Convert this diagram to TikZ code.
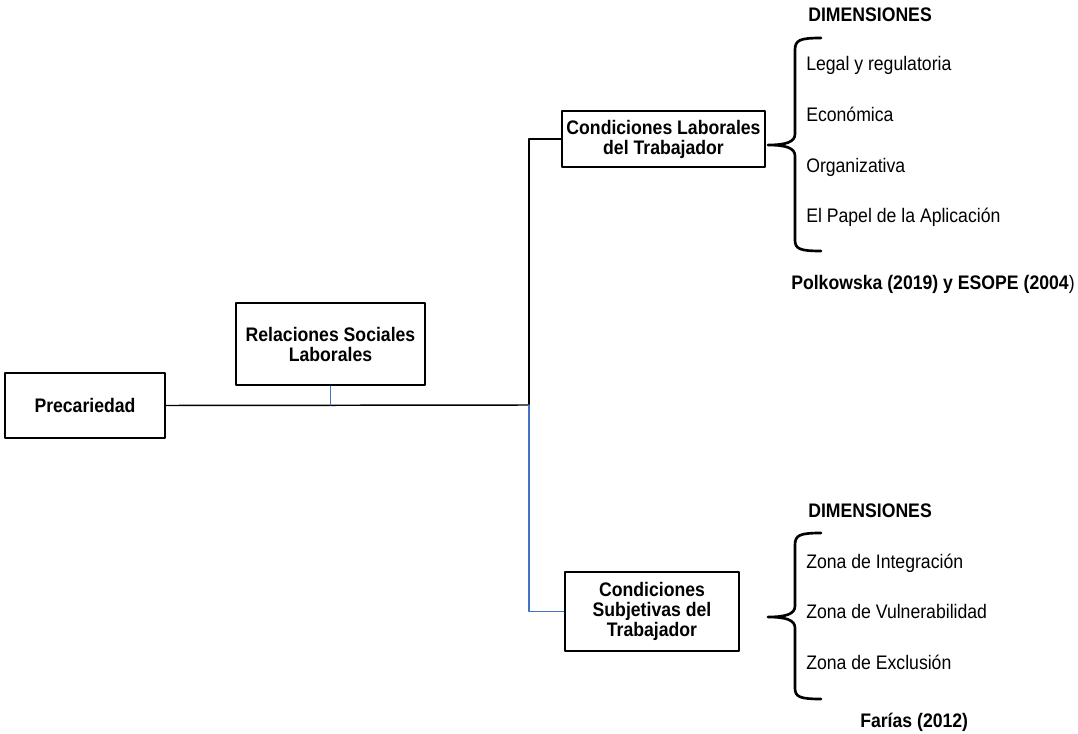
\documentclass[tikz,border=0pt]{standalone}
\usepackage{fontspec}
\setmainfont{Liberation Sans}[FakeStretch=0.9]
\usetikzlibrary{positioning}

\begin{document}
\begin{tikzpicture}[line cap=round,line join=round,x=0.75pt,y=-0.75pt,
  box/.style={draw,line width=2pt,align=center,inner sep=0pt,
    font=\fontsize{14.7pt}{15pt}\selectfont\bfseries},
  conn/.style={line width=1.1pt},
  blueconn/.style={line width=1.1pt,color=linkblue},
  item/.style={anchor=base west,inner sep=0pt,font=\fontsize{14.7pt}{15pt}\selectfont},
  head/.style={anchor=base west,inner sep=0pt,font=\fontsize{14.7pt}{15pt}\selectfont\bfseries},
  brace/.style={line width=2pt}]
\definecolor{linkblue}{RGB}{68,114,196}

\useasboundingbox (0,0) rectangle (1078,734);

% boxes
\node[box,minimum width=120pt,minimum height=48.75pt] (prec) at (85,405.5) {Precariedad};
\node[box,minimum width=141.75pt,minimum height=61.5pt] (rel) at (330.5,344) {Relaciones Sociales\\Laborales};
\node[box,minimum width=152.25pt,minimum height=42pt] (lab) at (663.5,139) {Condiciones Laborales\\del Trabajador};
\node[box,minimum width=130.5pt,minimum height=59.25pt] (subj) at (652,611.5) {Condiciones\\Subjetivas del\\Trabajador};

% connectors
\coordinate (hub) at (529,405);
\draw[conn] (prec.east) -- (hub);
\draw[conn] (hub) |- (lab.west);
\draw[blueconn] (hub) |- (subj.west);
\draw[blueconn] (rel.south) -- (rel.south |- hub);

% upper dimensions
\node[head] (dimA) at (808,22) {DIMENSIONES};
\draw[brace] (821,38) .. controls (800,38) and (795,40) .. (795,50) -- (795,134)
  .. controls (795,142) and (786,145) .. (768,145)
  .. controls (786,145) and (795,148) .. (795,156) -- (795,240)
  .. controls (795,249) and (800,251) .. (821,251);
\node[item] (legal) at (806,71) {Legal y regulatoria};
\node[item] (econ) at (806,122) {Económica};
\node[item] (org) at (806,173) {Organizativa};
\node[item] (app) at (806,223) {El Papel de la Aplicación};
\node[head] (srcA) at (791,290) {Polkowska (2019) y ESOPE (2004\textmd{)}};

% lower dimensions
\node[head] (dimB) at (808,517) {DIMENSIONES};
\draw[brace] (821,533) .. controls (800,533) and (795,535) .. (795,545) -- (795,606)
  .. controls (795,614) and (786,617) .. (768,617)
  .. controls (786,617) and (795,620) .. (795,628) -- (795,688)
  .. controls (795,697) and (800,699) .. (821,699);
\node[item] (integ) at (806,568) {Zona de Integración};
\node[item] (vuln) at (806,618) {Zona de Vulnerabilidad};
\node[item] (excl) at (806,669) {Zona de Exclusión};
\node[head] (srcB) at (860,727) {Farías (2012)};
\end{tikzpicture}
\end{document}
